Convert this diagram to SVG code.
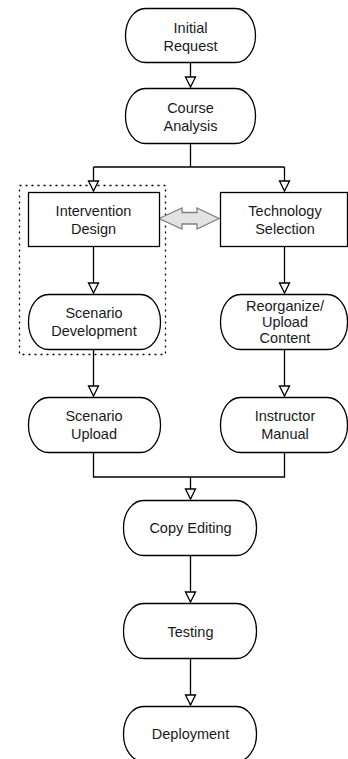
<svg xmlns="http://www.w3.org/2000/svg" width="348" height="759" viewBox="0 0 348 759">
<style>
.n{fill:#fff;stroke:#000;stroke-width:1.3}
.t{font-family:"Liberation Sans",Arial,sans-serif;font-size:14.5px;fill:#1a1a1a;text-anchor:middle}
.c{fill:none;stroke:#000;stroke-width:1.3}
</style>
<defs>
<marker id="ah" viewBox="0 0 12 14" refX="11" refY="7" markerWidth="12" markerHeight="14" markerUnits="userSpaceOnUse" orient="auto">
<path d="M1,2 L11,7 L1,12 Z" fill="#fff" stroke="#000" stroke-width="1.3"/>
</marker>
</defs>
<rect x="19.5" y="185.5" width="146" height="169" fill="none" stroke="#000" stroke-width="1.3" stroke-dasharray="2,4"/>
<g id="connectors">
<path class="c" d="M190.5,62 V87" marker-end="url(#ah)"/>
<path class="c" d="M190.5,143 V167 M93.5,167 H284.5"/>
<path class="c" d="M93.5,167 V191" marker-end="url(#ah)"/>
<path class="c" d="M284.5,167 V191" marker-end="url(#ah)"/>
<path class="c" d="M93.5,246 V293" marker-end="url(#ah)"/>
<path class="c" d="M284.5,246 V293" marker-end="url(#ah)"/>
<path class="c" d="M93.5,349 V396" marker-end="url(#ah)"/>
<path class="c" d="M284.5,349 V396" marker-end="url(#ah)"/>
<path class="c" d="M93.5,452 V477 H284.5 V452"/>
<path class="c" d="M190.5,477 V499" marker-end="url(#ah)"/>
<path class="c" d="M190.5,556 V602" marker-end="url(#ah)"/>
<path class="c" d="M190.5,659 V705" marker-end="url(#ah)"/>
<path d="M159,218.5 L182,208 L182,212.5 L197,212.5 L197,208 L219,218.5 L197,229 L197,224 L182,224 L182,229 Z" fill="#e3e3e3" stroke="#808080" stroke-width="1.3"/>
</g>
<g id="initial-request">
<rect class="n" x="125.5" y="8.5" width="130" height="54" rx="20" ry="27"/>
<text class="t" x="190.5" y="33">Initial</text>
<text class="t" x="190.5" y="51">Request</text>
</g>
<g id="course-analysis">
<rect class="n" x="125.5" y="88.5" width="130" height="55" rx="20" ry="27"/>
<text class="t" x="190.5" y="113">Course</text>
<text class="t" x="190.5" y="131">Analysis</text>
</g>
<g id="intervention-design">
<rect class="n" x="28.5" y="192.5" width="131" height="54"/>
<text class="t" x="93.5" y="216">Intervention</text>
<text class="t" x="93.5" y="234">Design</text>
</g>
<g id="technology-selection">
<rect class="n" x="220.5" y="192.5" width="127" height="54"/>
<text class="t" x="285" y="216">Technology</text>
<text class="t" x="285" y="234">Selection</text>
</g>
<g id="scenario-development">
<rect class="n" x="28.5" y="294.5" width="132" height="55" rx="20" ry="27"/>
<text class="t" x="94" y="318">Scenario</text>
<text class="t" x="94" y="336">Development</text>
</g>
<g id="reorganize-upload-content">
<rect class="n" x="220.5" y="294.5" width="127" height="55" rx="20" ry="27"/>
<text class="t" x="285" y="311">Reorganize/</text>
<text class="t" x="285" y="327">Upload</text>
<text class="t" x="285" y="343">Content</text>
</g>
<g id="scenario-upload">
<rect class="n" x="28.5" y="397.5" width="132" height="55" rx="20" ry="27"/>
<text class="t" x="94" y="421">Scenario</text>
<text class="t" x="94" y="439">Upload</text>
</g>
<g id="instructor-manual">
<rect class="n" x="220.5" y="397.5" width="127" height="55" rx="20" ry="27"/>
<text class="t" x="285" y="421">Instructor</text>
<text class="t" x="285" y="439">Manual</text>
</g>
<g id="copy-editing">
<rect class="n" x="123.5" y="500.5" width="133" height="55" rx="20" ry="27"/>
<text class="t" x="190.5" y="533">Copy Editing</text>
</g>
<g id="testing">
<rect class="n" x="123.5" y="603.5" width="133" height="55" rx="20" ry="27"/>
<text class="t" x="190.5" y="637">Testing</text>
</g>
<g id="deployment">
<rect class="n" x="123.5" y="706.5" width="133" height="55" rx="20" ry="27"/>
<text class="t" x="190.5" y="739">Deployment</text>
</g>
</svg>
